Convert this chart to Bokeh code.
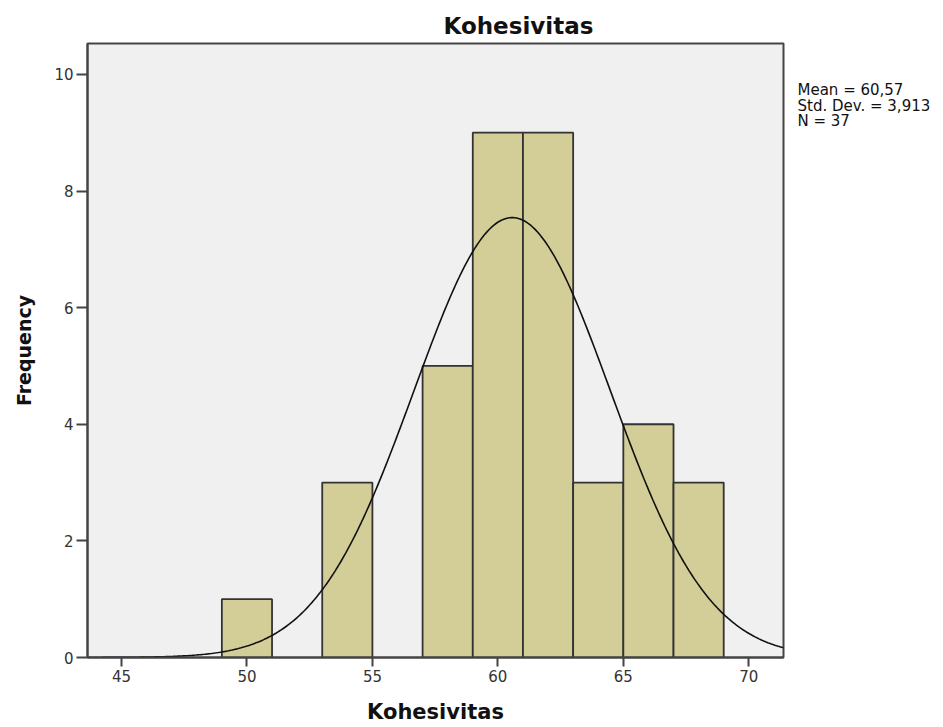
import numpy as np
from bokeh.plotting import figure
from bokeh.layouts import row
from bokeh.models import Range1d, FixedTicker
from bokeh.embed import file_html
from bokeh.resources import INLINE
from bokeh.core.properties import value

# ---- data ----
bin_starts = [49, 53, 57, 59, 61, 63, 65, 67]
counts = [1, 3, 5, 9, 9, 3, 4, 3]
bin_width = 2
mean_val = 60.57
sd_val = 3.913
n_val = 37
x_ticks = [45, 50, 55, 60, 65, 70]
y_ticks = [0, 2, 4, 6, 8, 10]
stats_lines = ["Mean = 60,57", "Std. Dev. = 3,913", "N = 37"]

x_lo, x_hi = 43.645, 71.383
y_lo, y_hi = 0, 10.53

FIG_H = 726
B_TOP, B_BOT = 43, 68
p = figure(width=793, height=FIG_H, output_backend="svg", toolbar_location=None,
           x_range=Range1d(x_lo, x_hi), y_range=Range1d(y_lo, y_hi),
           min_border_left=87, min_border_right=10, min_border_top=B_TOP,
           min_border_bottom=B_BOT, title="Kohesivitas")

p.background_fill_color = "#f0f0f0"
p.border_fill_color = "white"
p.outline_line_color = "#444444"
p.outline_line_width = 2
p.xgrid.visible = False
p.ygrid.visible = False

p.title.text_font = "DejaVu Sans"
p.title.text_font_style = "bold"
p.title.text_font_size = "23px"
p.title.text_color = "#111111"
p.title.align = "left"
p.title.offset = 356
p.title.standoff = 10

lefts = np.array(bin_starts, dtype=float)
p.quad(left=lefts, right=lefts + bin_width, top=counts, bottom=0,
       fill_color="#d3ce98", line_color="#333333", line_width=1.8)

xs = np.linspace(x_lo, x_hi, 400)
ys = n_val * bin_width * np.exp(-0.5 * ((xs - mean_val) / sd_val) ** 2) / (sd_val * np.sqrt(2 * np.pi))
p.line(xs, ys, line_color="#111111", line_width=1.6)

for ax in (p.xaxis[0], p.yaxis[0]):
    ax.minor_tick_line_color = None
    ax.major_tick_in = 0
    ax.axis_line_color = "#444444"
    ax.axis_line_width = 2
    ax.major_tick_line_color = "#444444"
    ax.major_tick_line_width = 2
    ax.major_label_text_font = "DejaVu Sans"
    ax.major_label_text_font_size = "15px"
    ax.major_label_text_color = "#333333"
    ax.major_label_standoff = 3
    ax.axis_label_text_font = "DejaVu Sans"
    ax.axis_label_text_font_style = "bold"
    ax.axis_label_text_color = "#111111"

p.xaxis.ticker = FixedTicker(ticks=x_ticks)
p.yaxis.ticker = FixedTicker(ticks=y_ticks)
p.xaxis.major_tick_out = 9
p.yaxis.major_tick_out = 11
p.xaxis.axis_label = "Kohesivitas"
p.yaxis.axis_label = "Frequency"
p.xaxis.axis_label_text_font_size = "21px"
p.yaxis.axis_label_text_font_size = "19px"
p.xaxis.axis_label_standoff = 15
p.yaxis.axis_label_standoff = 16

# side panel with the statistics text; its frame is aligned with the main frame,
# y range set in page pixels (downwards) over the frame's extent
SIDE_W = 145
frame_top_px, frame_bot_px = B_TOP, FIG_H - B_BOT
s = figure(width=SIDE_W, height=FIG_H, output_backend="svg", toolbar_location=None,
           x_range=Range1d(0, SIDE_W), y_range=Range1d(frame_bot_px, frame_top_px),
           x_axis_type=None, y_axis_type=None, min_border_left=0, min_border_right=0,
           min_border_top=B_TOP, min_border_bottom=B_BOT)
s.outline_line_color = None
s.xgrid.visible = False
s.ygrid.visible = False
s.background_fill_color = "white"
s.border_fill_color = "white"
s.text(x=[4] * len(stats_lines), y=[90 + 15.5 * i for i in range(len(stats_lines))],
       text=stats_lines, text_font=value("DejaVu Sans"), text_font_size="15px",
       text_color="#111111", text_baseline="alphabetic", text_align="left")

layout = row(p, s, spacing=0)
open("out.html", "w").write(file_html(layout, INLINE))
